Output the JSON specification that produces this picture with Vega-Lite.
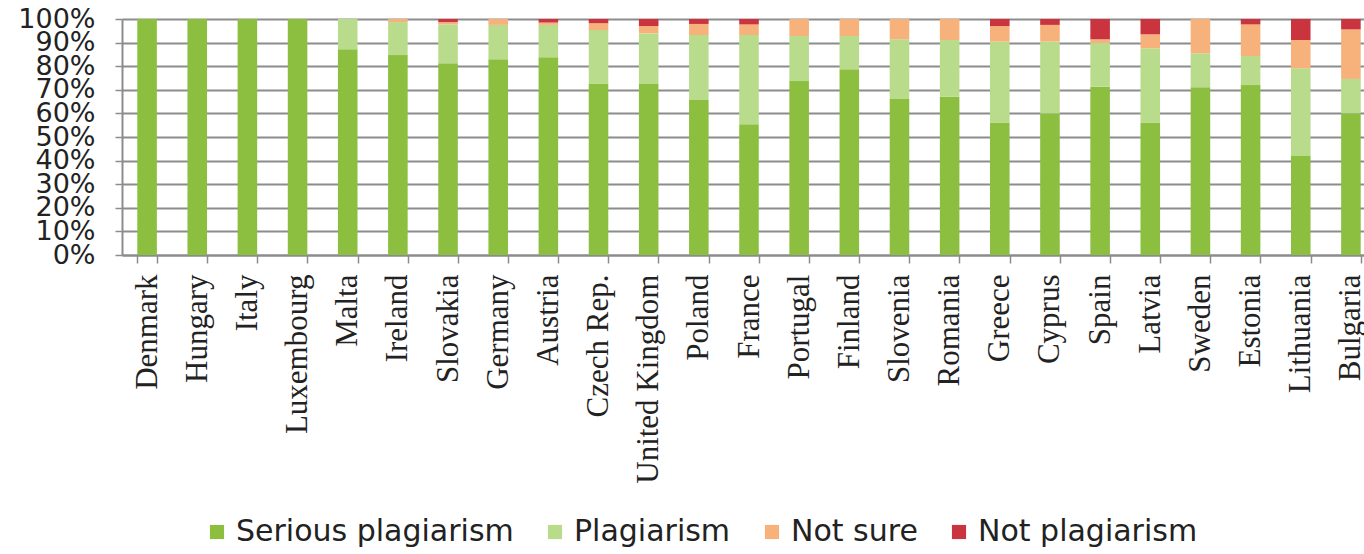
{
  "$schema": "https://vega.github.io/schema/vega-lite/v6.json",
  "autosize": {"type": "none"},
  "width": 1242,
  "height": 236,
  "padding": {"left": 122, "top": 19, "right": 0, "bottom": 299},
  "background": "white",
  "data": {
    "values": [
      {"country": "Denmark", "category": "Serious plagiarism", "o": 1, "value": 100},
      {"country": "Hungary", "category": "Serious plagiarism", "o": 1, "value": 100},
      {"country": "Italy", "category": "Serious plagiarism", "o": 1, "value": 100},
      {"country": "Luxembourg", "category": "Serious plagiarism", "o": 1, "value": 100},
      {"country": "Malta", "category": "Serious plagiarism", "o": 1, "value": 87.2},
      {"country": "Malta", "category": "Plagiarism", "o": 2, "value": 12.8},
      {"country": "Ireland", "category": "Serious plagiarism", "o": 1, "value": 84.7},
      {"country": "Ireland", "category": "Plagiarism", "o": 2, "value": 14.0},
      {"country": "Ireland", "category": "Not sure", "o": 3, "value": 1.3},
      {"country": "Slovakia", "category": "Serious plagiarism", "o": 1, "value": 81.2},
      {"country": "Slovakia", "category": "Plagiarism", "o": 2, "value": 16.5},
      {"country": "Slovakia", "category": "Not sure", "o": 3, "value": 1.0},
      {"country": "Slovakia", "category": "Not plagiarism", "o": 4, "value": 1.3},
      {"country": "Germany", "category": "Serious plagiarism", "o": 1, "value": 82.9},
      {"country": "Germany", "category": "Plagiarism", "o": 2, "value": 14.6},
      {"country": "Germany", "category": "Not sure", "o": 3, "value": 2.5},
      {"country": "Austria", "category": "Serious plagiarism", "o": 1, "value": 83.8},
      {"country": "Austria", "category": "Plagiarism", "o": 2, "value": 13.7},
      {"country": "Austria", "category": "Not sure", "o": 3, "value": 1.0},
      {"country": "Austria", "category": "Not plagiarism", "o": 4, "value": 1.5},
      {"country": "Czech Rep.", "category": "Serious plagiarism", "o": 1, "value": 72.7},
      {"country": "Czech Rep.", "category": "Plagiarism", "o": 2, "value": 22.6},
      {"country": "Czech Rep.", "category": "Not sure", "o": 3, "value": 2.9},
      {"country": "Czech Rep.", "category": "Not plagiarism", "o": 4, "value": 1.8},
      {"country": "United Kingdom", "category": "Serious plagiarism", "o": 1, "value": 72.5},
      {"country": "United Kingdom", "category": "Plagiarism", "o": 2, "value": 21.4},
      {"country": "United Kingdom", "category": "Not sure", "o": 3, "value": 3.1},
      {"country": "United Kingdom", "category": "Not plagiarism", "o": 4, "value": 3.0},
      {"country": "Poland", "category": "Serious plagiarism", "o": 1, "value": 65.7},
      {"country": "Poland", "category": "Plagiarism", "o": 2, "value": 27.5},
      {"country": "Poland", "category": "Not sure", "o": 3, "value": 4.7},
      {"country": "Poland", "category": "Not plagiarism", "o": 4, "value": 2.1},
      {"country": "France", "category": "Serious plagiarism", "o": 1, "value": 55.4},
      {"country": "France", "category": "Plagiarism", "o": 2, "value": 37.8},
      {"country": "France", "category": "Not sure", "o": 3, "value": 4.5},
      {"country": "France", "category": "Not plagiarism", "o": 4, "value": 2.3},
      {"country": "Portugal", "category": "Serious plagiarism", "o": 1, "value": 73.7},
      {"country": "Portugal", "category": "Plagiarism", "o": 2, "value": 19.1},
      {"country": "Portugal", "category": "Not sure", "o": 3, "value": 7.2},
      {"country": "Finland", "category": "Serious plagiarism", "o": 1, "value": 78.7},
      {"country": "Finland", "category": "Plagiarism", "o": 2, "value": 14.1},
      {"country": "Finland", "category": "Not sure", "o": 3, "value": 7.2},
      {"country": "Slovenia", "category": "Serious plagiarism", "o": 1, "value": 66.1},
      {"country": "Slovenia", "category": "Plagiarism", "o": 2, "value": 25.3},
      {"country": "Slovenia", "category": "Not sure", "o": 3, "value": 8.6},
      {"country": "Romania", "category": "Serious plagiarism", "o": 1, "value": 67.1},
      {"country": "Romania", "category": "Plagiarism", "o": 2, "value": 24.0},
      {"country": "Romania", "category": "Not sure", "o": 3, "value": 8.9},
      {"country": "Greece", "category": "Serious plagiarism", "o": 1, "value": 56.1},
      {"country": "Greece", "category": "Plagiarism", "o": 2, "value": 34.3},
      {"country": "Greece", "category": "Not sure", "o": 3, "value": 6.6},
      {"country": "Greece", "category": "Not plagiarism", "o": 4, "value": 3.0},
      {"country": "Cyprus", "category": "Serious plagiarism", "o": 1, "value": 60.0},
      {"country": "Cyprus", "category": "Plagiarism", "o": 2, "value": 30.4},
      {"country": "Cyprus", "category": "Not sure", "o": 3, "value": 7.1},
      {"country": "Cyprus", "category": "Not plagiarism", "o": 4, "value": 2.5},
      {"country": "Spain", "category": "Serious plagiarism", "o": 1, "value": 71.3},
      {"country": "Spain", "category": "Plagiarism", "o": 2, "value": 18.6},
      {"country": "Spain", "category": "Not sure", "o": 3, "value": 1.5},
      {"country": "Spain", "category": "Not plagiarism", "o": 4, "value": 8.6},
      {"country": "Latvia", "category": "Serious plagiarism", "o": 1, "value": 56.1},
      {"country": "Latvia", "category": "Plagiarism", "o": 2, "value": 31.5},
      {"country": "Latvia", "category": "Not sure", "o": 3, "value": 5.9},
      {"country": "Latvia", "category": "Not plagiarism", "o": 4, "value": 6.5},
      {"country": "Sweden", "category": "Serious plagiarism", "o": 1, "value": 71.1},
      {"country": "Sweden", "category": "Plagiarism", "o": 2, "value": 14.4},
      {"country": "Sweden", "category": "Not sure", "o": 3, "value": 14.5},
      {"country": "Estonia", "category": "Serious plagiarism", "o": 1, "value": 72.0},
      {"country": "Estonia", "category": "Plagiarism", "o": 2, "value": 12.3},
      {"country": "Estonia", "category": "Not sure", "o": 3, "value": 13.4},
      {"country": "Estonia", "category": "Not plagiarism", "o": 4, "value": 2.3},
      {"country": "Lithuania", "category": "Serious plagiarism", "o": 1, "value": 41.9},
      {"country": "Lithuania", "category": "Plagiarism", "o": 2, "value": 37.2},
      {"country": "Lithuania", "category": "Not sure", "o": 3, "value": 12.0},
      {"country": "Lithuania", "category": "Not plagiarism", "o": 4, "value": 8.9},
      {"country": "Bulgaria", "category": "Serious plagiarism", "o": 1, "value": 60.0},
      {"country": "Bulgaria", "category": "Plagiarism", "o": 2, "value": 14.6},
      {"country": "Bulgaria", "category": "Not sure", "o": 3, "value": 21.0},
      {"country": "Bulgaria", "category": "Not plagiarism", "o": 4, "value": 4.4}
    ]
  },
  "mark": {"type": "bar"},
  "encoding": {
    "x": {
      "field": "country",
      "type": "nominal",
      "sort": null,
      "title": null,
      "scale": {"paddingInner": 0.61, "paddingOuter": 0.305, "range": [0, 1254]},
      "axis": {
        "labelAngle": -90,
        "labelAlign": "right",
        "labelBaseline": "middle",
        "labelFont": "Liberation Serif",
        "labelFontSize": 31,
        "labelColor": "#222222",
        "labelPadding": 11,
        "labelOverlap": false,
        "tickBand": "extent",
        "tickSize": 8,
        "tickColor": "#8c8c8c",
        "tickWidth": 1.5,
        "domainColor": "#8c8c8c",
        "domainWidth": 2,
        "labelLimit": 300,
        "grid": false
      }
    },
    "y": {
      "field": "value",
      "type": "quantitative",
      "stack": "normalize",
      "title": null,
      "scale": {"domain": [0, 1], "nice": false},
      "axis": {
        "format": ".0%",
        "values": [0, 0.1, 0.2, 0.3, 0.4, 0.5, 0.6, 0.7, 0.8, 0.9, 1],
        "labelFont": "DejaVu Sans",
        "labelFontSize": 27,
        "labelColor": "#222222",
        "labelPadding": 20,
        "labelOverlap": false,
        "labelBaseline": "middle",
        "tickSize": 7,
        "tickColor": "#8c8c8c",
        "tickWidth": 1.5,
        "domainColor": "#8c8c8c",
        "domainWidth": 2,
        "grid": true,
        "gridColor": "#8c8c8c",
        "gridWidth": 2
      }
    },
    "color": {
      "field": "category",
      "type": "nominal",
      "title": null,
      "scale": {
        "domain": ["Serious plagiarism", "Plagiarism", "Not sure", "Not plagiarism"],
        "range": ["#8cbf3f", "#b9dc8c", "#f6b27a", "#c9343f"]
      },
      "legend": {
        "orient": "none",
        "direction": "horizontal",
        "legendX": 80,
        "legendY": 498,
        "symbolType": "square",
        "symbolSize": 200,
        "symbolStrokeWidth": 0,
        "labelFont": "DejaVu Sans",
        "labelFontSize": 30,
        "labelColor": "#222222",
        "labelOffset": 4,
        "columnPadding": 26,
        "labelLimit": 400
      }
    },
    "order": {"field": "o", "type": "quantitative"}
  },
  "config": {"view": {"stroke": null}}
}
